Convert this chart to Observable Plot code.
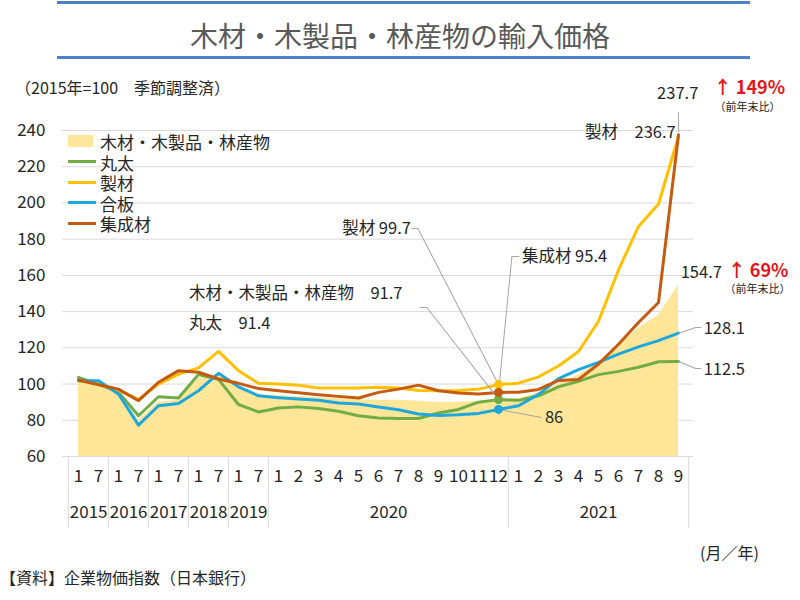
<!DOCTYPE html>
<html><head><meta charset="utf-8">
<script src="https://cdn.jsdelivr.net/npm/d3@7"></script>
<script src="https://cdn.jsdelivr.net/npm/@observablehq/plot@0.6"></script>
<style>
body{margin:0;background:#fff;}
#wrap{position:relative;width:800px;height:600px;overflow:hidden;background:#fff;font-family:"Noto Sans CJK JP","Noto Sans",sans-serif;color:#262626;}
.abs{position:absolute;white-space:nowrap;line-height:1;z-index:2;}
.vc{transform:translateY(-50%);}
#chart{position:absolute;left:0;top:60px;z-index:1;}
</style></head>
<body><div id="wrap">
<div class="abs" style="left:57px;top:1px;width:693px;height:3px;background:#4E7FC9;"></div>
<div class="abs vc" style="left:0;top:35px;width:800px;text-align:center;font-size:28px;color:#595959;">木材・木製品・林産物の輸入価格</div>
<div class="abs" style="left:57px;top:56px;width:693px;height:3px;background:#4E7FC9;"></div>
<div class="abs vc" style="left:15px;top:87px;font-size:16px;">（2015年=100　季節調整済）</div>
<div id="legend"></div>
<div id="chart"></div>
<div class="abs vc" style="left:700px;top:552px;font-size:16px;">(月／年)</div>
<div class="abs vc" style="left:0;top:577px;font-size:16px;">【資料】企業物価指数（日本銀行）</div>
</div>
<script>
// ---- data ----
const periods = ["2015/1","2015/7","2016/1","2016/7","2017/1","2017/7","2018/1","2018/7","2019/1","2019/7",
  "2020/1","2020/2","2020/3","2020/4","2020/5","2020/6","2020/7","2020/8","2020/9","2020/10","2020/11","2020/12",
  "2021/1","2021/2","2021/3","2021/4","2021/5","2021/6","2021/7","2021/8","2021/9"];
const total  = [101, 100, 95, 80, 90, 91, 103, 105.5, 99, 94, 93.5, 93, 92.5, 92, 91.5, 91, 91, 90.5, 90, 90, 90.5, 91.7, 92, 95, 100, 105, 112, 121, 131, 138, 154.7];
const maruta = [103.7, 100, 95.5, 82.5, 93, 92.3, 105.3, 102.6, 88.7, 84.6, 86.8, 87.4, 86.5, 85, 82.5, 81.3, 81, 81, 84, 86, 90, 91.4, 91, 93.5, 98.5, 101.5, 105.2, 107, 109.3, 112.3, 112.5];
const seizai = [101.8, 100, 96.7, 91.5, 100, 105.5, 108.9, 118, 107.4, 100.4, 100, 99.4, 97.8, 97.8, 97.8, 98.2, 97.8, 96.5, 96.3, 96.5, 97.2, 99.7, 100.5, 104, 110, 118, 134.7, 163, 187, 199.4, 236.7];
const gohan  = [101.8, 101.8, 94.5, 77.3, 88, 89.3, 96.3, 105.9, 98.5, 93.5, 92.5, 91.7, 91, 89.5, 89, 87.3, 85.8, 83.5, 82.7, 83, 83.8, 86, 88, 94.3, 103, 108, 112, 116.5, 120.5, 124, 128.1];
const shusei = [102.2, 99.6, 97.2, 90.8, 101, 107.4, 106.5, 102.8, 100.4, 97.5, 96.3, 95.2, 94.1, 93.2, 92.3, 95.4, 97.2, 99.4, 96.3, 95, 94.5, 95.4, 95.5, 97, 102, 102.5, 111, 122, 134, 145, 237.7];
const yTicks = [60, 80, 100, 120, 140, 160, 180, 200, 220, 240];
const seriesNames = {total: "木材・木製品・林産物", maruta: "丸太", seizai: "製材", gohan: "合板", shusei: "集成材"};
const colors = {total: "#FFE699", maruta: "#70AD47", seizai: "#FFC000", gohan: "#1EA7DC", shusei: "#C55A11"};
const lineKeys = ["maruta", "seizai", "gohan", "shusei"];

// ---- table ----
const rows = periods.map((p, i) => ({key: p, total: total[i], maruta: maruta[i], seizai: seizai[i], gohan: gohan[i], shusei: shusei[i]}));
const dec = rows[periods.indexOf("2020/12")];
const last = rows[rows.length - 1];

// ---- layout ----
const W = 800, H = 485, ML = 62, MR = 107, MT = 70, MB = 89;
const step = (W - ML - MR) / periods.length;
const frameH = H - MT - MB;
const FONT = '"Noto Sans CJK JP","Noto Sans",sans-serif';
const TXT = "#262626", LEAD = "#a6a6a6";

// legend (HTML)
const legend = document.getElementById("legend");
["total", ...lineKeys].forEach((k, i) => {
  const top = 141 + i * 20.5;
  const sw = document.createElement("div");
  sw.className = "abs";
  if (k === "total") sw.style.cssText = `left:68px;top:${top - 6}px;width:25px;height:12px;background:${colors[k]};`;
  else sw.style.cssText = `left:68px;top:${top - 1.5}px;width:28px;height:3px;background:${colors[k]};`;
  legend.appendChild(sw);
  const t = document.createElement("div");
  t.className = "abs vc";
  t.style.cssText = `left:100px;top:${top}px;font-size:17px;`;
  t.textContent = seriesNames[k];
  legend.appendChild(t);
});

// year groups for the two-level axis
const yearGroups = [];
periods.forEach((p, i) => {
  const y = p.split("/")[0];
  let g = yearGroups.find(d => d.year === y);
  if (!g) { g = {year: y, first: i, last: i}; yearGroups.push(g); } else g.last = i;
});
yearGroups.forEach(g => { g.mid = Math.floor((g.first + g.last) / 2); g.even = (g.last - g.first + 1) % 2 === 0; g.anchor = periods[g.mid]; });
const yearStarts = yearGroups.map(g => periods[g.first]);

// leader helpers
const lineShape = {draw(context, l) { context.moveTo(0, 0); context.lineTo(0, -l); }};
function seg(row, field, ax, ay, bx, by) {
  const ddx = bx - ax, ddy = by - ay;
  return Plot.vector([row], {x: "key", y: field, dx: ax, dy: ay, length: Math.hypot(ddx, ddy),
    rotate: Math.atan2(ddx, -ddy) * 180 / Math.PI, anchor: "start", shape: lineShape, stroke: LEAD, strokeWidth: 1});
}
function note(row, field, text, dx, dy, anchor, o = {}) {
  return Plot.text([row], {x: "key", y: field, text: () => text, dx, dy, textAnchor: anchor,
    fontSize: o.size || 16.5, fill: o.fill || TXT, fontWeight: o.weight || "normal", lineAnchor: "middle"});
}
const pct = (a, b) => "↑ " + Math.round((a / b - 1) * 100) + "%";

const marks = [
  Plot.ruleY(yTicks.filter(v => v > 60), {y: d => d, stroke: "#d9d9d9", strokeWidth: 1}),
  Plot.areaY(rows, {x: "key", y1: yTicks[0], y2: "total", fill: colors.total}),
  Plot.ruleY([yTicks[0]], {y: d => d, stroke: "#d9d9d9", strokeWidth: 1}),
  // category separators
  Plot.ruleX(yearStarts, {x: d => d, dx: -step / 2, insetTop: frameH, insetBottom: -72, stroke: "#d9d9d9"}),
  Plot.ruleX([periods[periods.length - 1]], {x: d => d, dx: step / 2, insetTop: frameH, insetBottom: -72, stroke: "#d9d9d9"}),
  // month labels and year labels
  Plot.text(rows, {x: "key", text: d => d.key.split("/")[1], frameAnchor: "bottom", dy: 25, fontSize: 17, fill: TXT}),
  Plot.text(yearGroups.filter(g => g.even), {x: "anchor", text: "year", frameAnchor: "bottom", dy: 61, dx: step / 2, fontSize: 17, fill: TXT}),
  Plot.text(yearGroups.filter(g => !g.even), {x: "anchor", text: "year", frameAnchor: "bottom", dy: 61, fontSize: 17, fill: TXT}),
  // series lines
  ...lineKeys.map(k => Plot.line(rows, {x: "key", y: k, stroke: colors[k], strokeWidth: 3, strokeLinejoin: "round", strokeLinecap: "round"})),
  // leaders
  seg(dec, "seizai", 0, 0, -80.6, -156.1), seg(dec, "seizai", -80.6, -156.1, -86.6, -156.1),
  seg(dec, "shusei", 0, 0, 13.4, -135.9), seg(dec, "shusei", 13.4, -135.9, 20.4, -135.9),
  seg(dec, "total", 0, 0, -71.6, -91.6), seg(dec, "total", -71.6, -91.6, -78.6, -91.6),
  seg(dec, "gohan", 0, 0, 43, 8),
  seg(last, "gohan", 0, 0, 17.2, -5.7), seg(last, "gohan", 17.2, -5.7, 22.2, -5.7),
  seg(last, "maruta", 0, 0, 17.2, 7.1), seg(last, "maruta", 17.2, 7.1, 22.2, 7.1),
  seg(last, "shusei", 0, -3, 0, -22),
  // markers at 2020/12
  ...["total", ...lineKeys].map(k => Plot.dot([dec], {x: "key", y: k, r: 4.5, fill: k === "total" ? "#F5D46A" : colors[k], stroke: "none"})),
  // annotations
  note(dec, "seizai", `製材 ${dec.seizai}`, -87.6, -156.1, "end"),
  note(dec, "shusei", `集成材 ${dec.shusei}`, 23.4, -135.9, "start"),
  note(dec, "total", `${seriesNames.total}　${dec.total}`, -309.6, -105.6, "start"),
  note(dec, "maruta", `${seriesNames.maruta}　${dec.maruta}`, -309.6, -76.1, "start"),
  note(dec, "gohan", `${dec.gohan}`, 46.4, 8.1, "start"),
  note(last, "gohan", `${last.gohan}`, 25.2, -4.7, "start"),
  note(last, "maruta", `${last.maruta}`, 25.2, 8.1, "start"),
  note(last, "total", `${last.total}`, 2.2, -12.5, "start"),
  note(last, "total", pct(last.total, dec.total), 49.2, -13.5, "start", {fill: "#E8141B", weight: "bold", size: 18}),
  note(last, "total", "（前年末比）", 46, 4.5, "start", {size: 11}),
  note(last, "shusei", `${last.shusei}`, -0.8, -41.2, "middle"),
  note(last, "shusei", pct(last.shusei, dec.shusei), 35.2, -46.2, "start", {fill: "#E8141B", weight: "bold", size: 18}),
  note(last, "shusei", "（前年末比）", 36, -27.2, "start", {size: 11}),
  note(last, "seizai", `製材　${last.seizai}`, -2.8, -4, "end")
];

const chart = Plot.plot({
  width: W, height: H, marginLeft: ML, marginRight: MR, marginTop: MT, marginBottom: MB,
  style: {fontFamily: FONT, fontSize: "17px", color: TXT, background: "transparent", overflow: "visible"},
  x: {type: "point", domain: periods, padding: 0.5, axis: null},
  y: {domain: [yTicks[0], yTicks[yTicks.length - 1]], ticks: yTicks, tickSize: 0, tickPadding: 17, label: null, nice: false},
  marks
});
document.getElementById("chart").appendChild(chart);
</script>
</body></html>
